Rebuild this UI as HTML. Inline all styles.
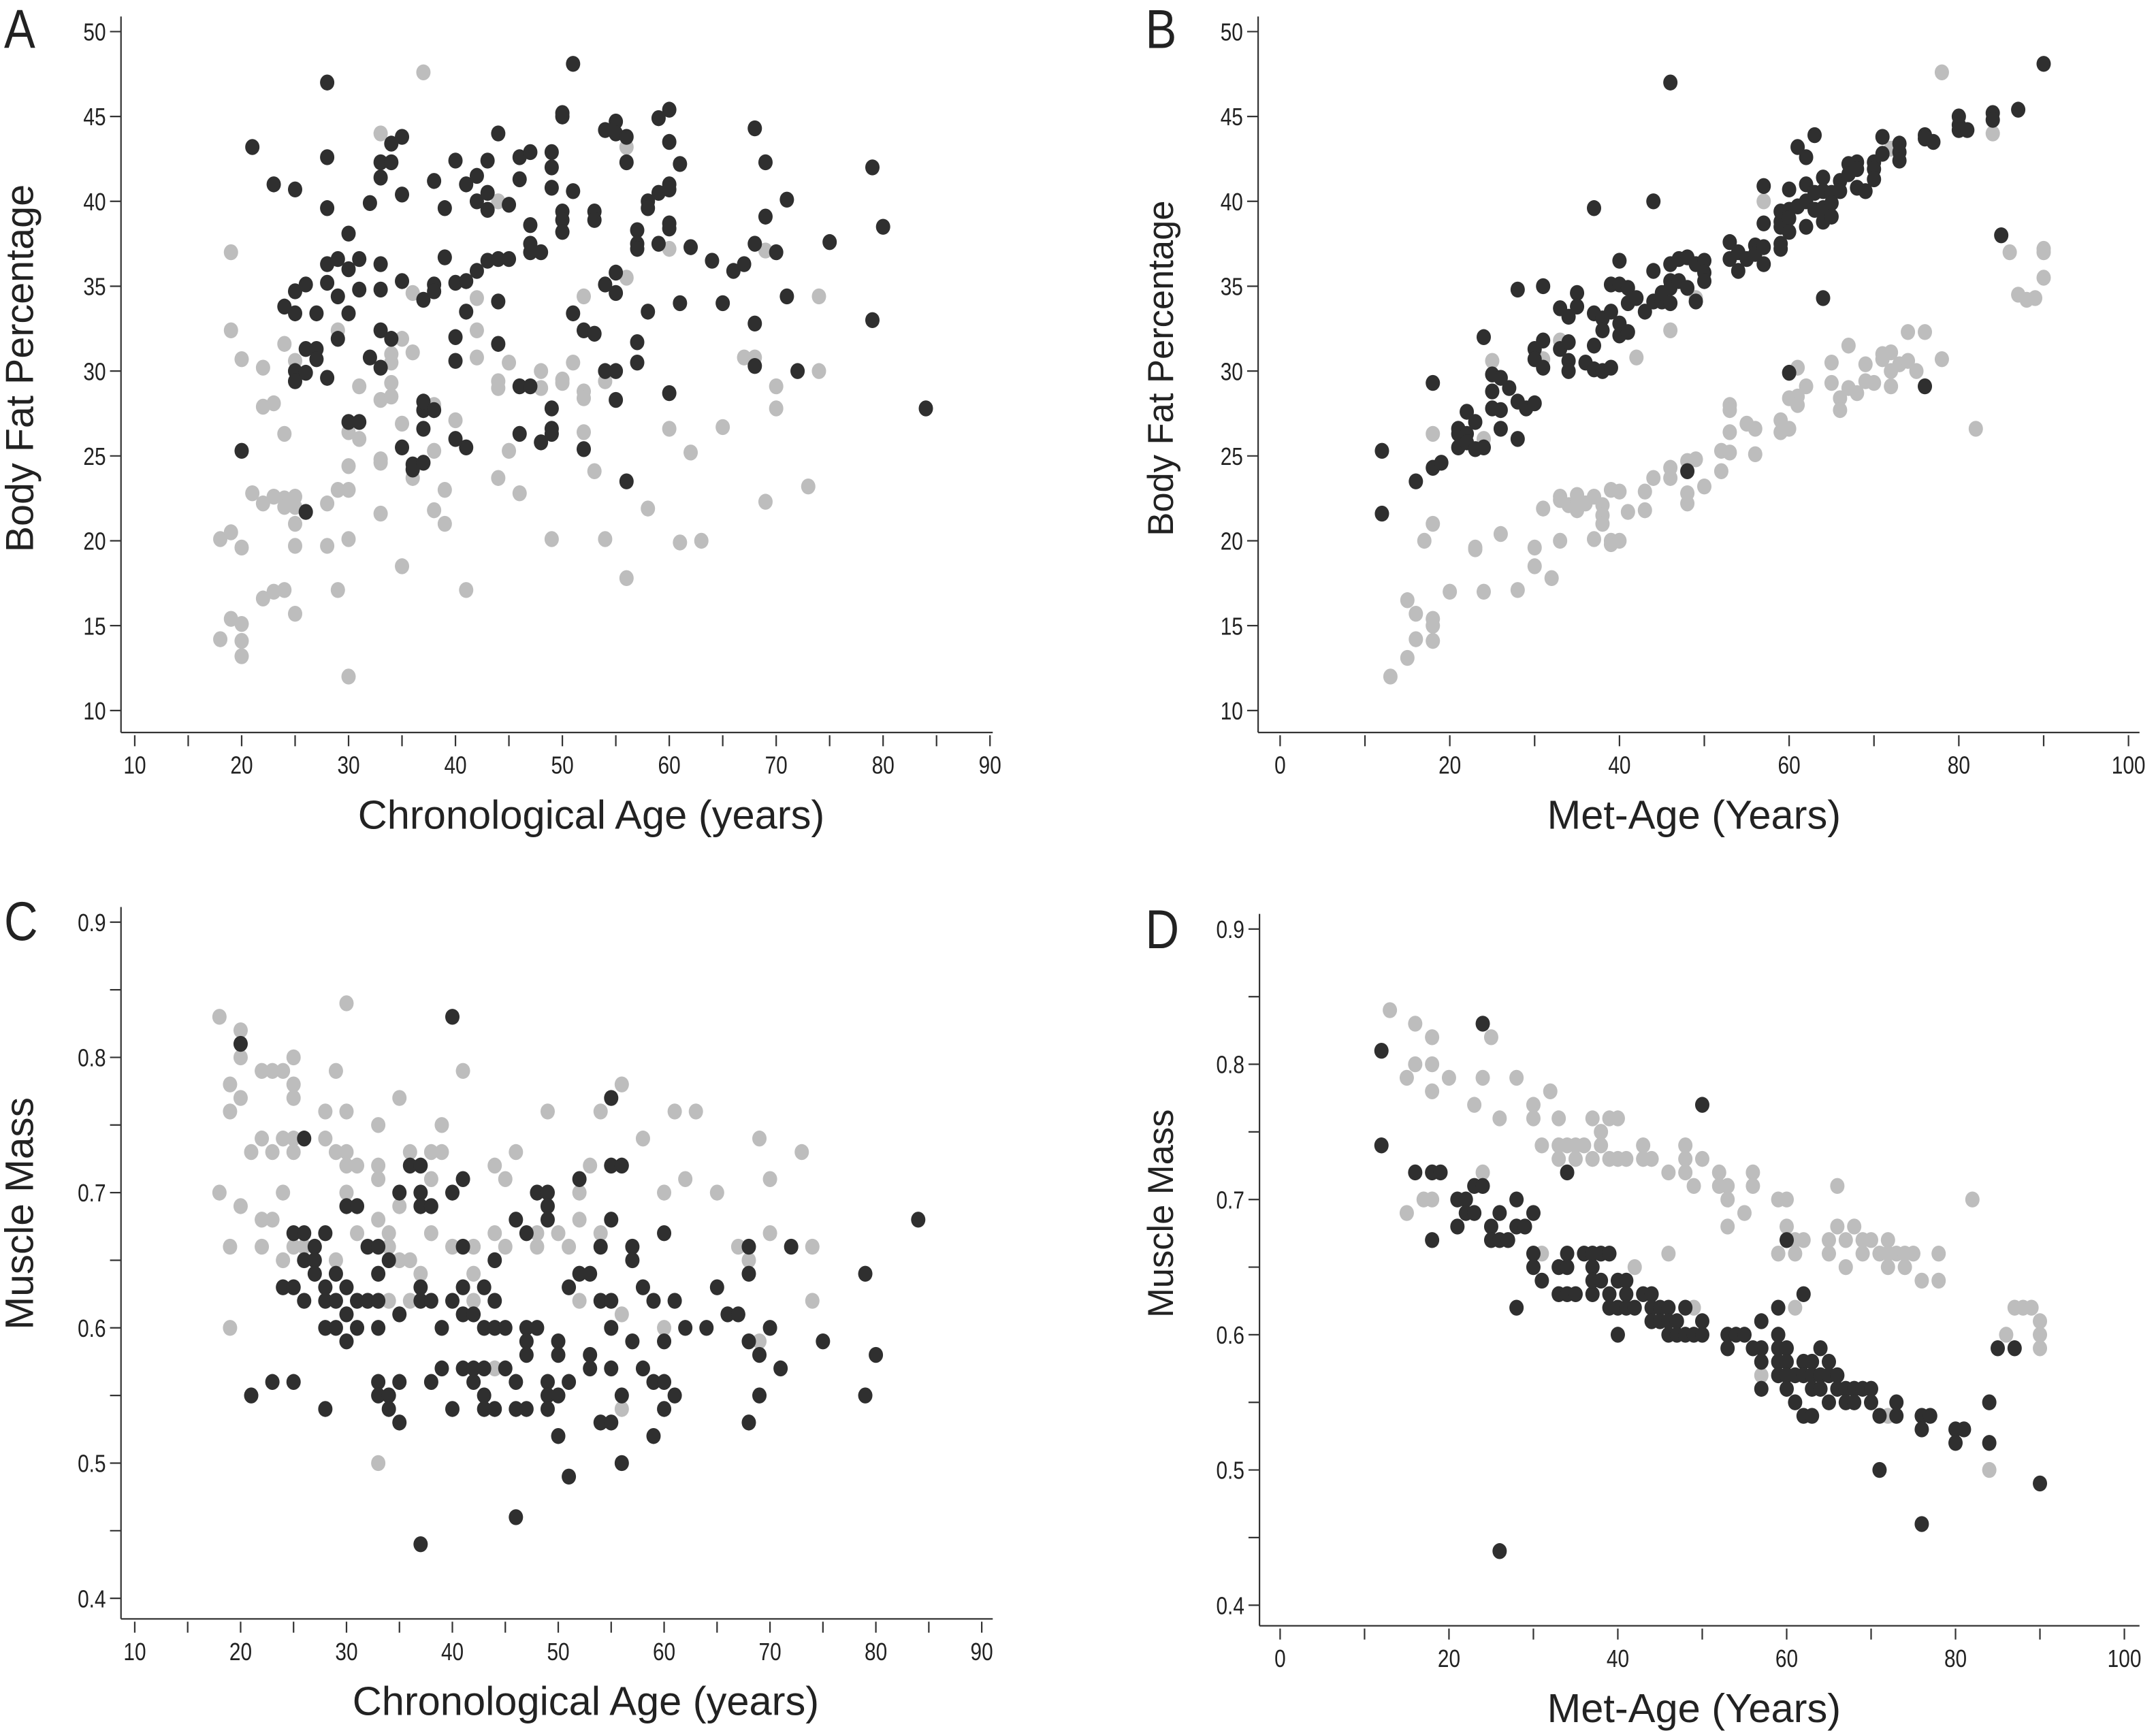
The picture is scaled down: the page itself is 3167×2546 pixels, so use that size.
<!DOCTYPE html>
<html><head><meta charset="utf-8"><style>
html,body{margin:0;padding:0;background:#fff;}
svg{display:block;}
text{font-family:"Liberation Sans Narrow","Liberation Sans",sans-serif;fill:#222;}
</style></head><body>
<svg id="fig" width="3167" height="2546" viewBox="0 0 1568 1261" preserveAspectRatio="none" xmlns="http://www.w3.org/2000/svg"></svg>
<script>
// ---------- Panel A data (chronological age vs body fat) ----------
const aDarkX=[21,23,25,28,28,28,24,25,25,26,27,25,25,26,26,27,27,28,28,28,29,29,29,30,30,30,30,31,31,31,32,32,33,33,33,33,33,33,34,34,34,35,35,35,35,36,36,37,37,37,37,37,38,38,38,38,39,39,40,40,40,40,40,41,41,41,41,42,42,42,43,43,43,43,44,44,44,44,45,45,46,46,46,46,47,47,47,47,47,48,48,49,49,49,49,49,49,50,50,50,50,50,51,51,51,52,52,53,53,53,54,54,54,55,55,55,55,55,55,56,56,56,57,57,57,57,57,58,58,58,59,59,59,60,60,60,60,60,60,60,61,61,62,64,65,66,67,68,68,68,68,69,69,70,71,71,72,75,79,79,80,84,20,26];
const aDarkY=[43.2,41,40.7,47,42.6,39.6,33.8,34.7,33.4,35.1,33.4,30,29.4,31.3,29.9,31.3,30.7,29.6,36.3,35.2,36.6,34.4,31.9,38.1,36,33.4,27,27,36.6,34.8,39.9,30.8,42.3,41.4,36.3,34.8,32.4,30.2,43.4,42.3,31.9,43.8,40.4,35.3,25.5,24.2,24.5,24.6,27.7,26.6,28.2,34.2,41.2,35.1,34.7,27.7,39.6,36.7,42.4,35.2,32,30.6,26,41,35.3,33.5,25.5,41.5,40,35.9,42.4,40.5,39.5,36.5,44,36.6,34.1,31.6,39.8,36.6,42.6,41.3,29.1,26.3,42.9,38.6,37.5,37,29.1,37,25.8,42.9,42,40.8,27.8,26.6,26.3,45.2,45,39.4,38.9,38.2,48.1,40.6,33.4,32.4,25.4,39.4,38.9,32.2,44.2,35.1,30,44.7,44,35.8,34.6,30,28.3,43.8,42.3,23.5,38.3,37.5,37.2,31.7,30.5,40,39.6,33.5,44.9,40.5,37.5,45.4,43.5,41,40.7,38.7,38.4,28.7,42.2,34,37.3,36.5,34,35.9,36.3,44.3,37.5,32.8,30.3,42.3,39.1,37,40.1,34.4,30,37.6,42,33,38.5,27.8,25.3,21.7];
const aLightX=[18,18,19,19,19,19,20,20,20,20,20,21,22,22,22,22,23,23,23,24,24,24,24,24,25,25,25,25,25,25,28,28,29,29,29,30,30,30,30,30,31,31,33,33,33,33,33,34,34,34,34,35,35,35,36,36,36,37,38,38,38,39,39,40,41,42,42,42,44,44,44,44,45,45,46,48,48,49,50,50,51,52,52,52,52,53,54,54,56,56,56,58,60,60,61,62,63,65,67,68,69,69,70,70,73,74,74];
const aLightY=[20.1,14.2,37,32.4,20.5,15.4,30.7,19.6,15.1,14.1,13.2,22.8,30.2,27.9,22.2,16.6,28.1,22.6,17,31.6,26.3,22.5,22,17.1,30.6,22.6,22,21,19.7,15.7,22.2,19.7,32.4,23,17.1,26.4,24.4,23,20.1,12,29.1,26,44,28.3,24.8,24.6,21.6,31,30.5,29.3,28.5,31.9,26.9,18.5,34.6,31.1,23.7,47.6,28,25.3,21.8,23,21,27.1,17.1,34.3,32.4,30.8,40,29.4,29,23.7,30.5,25.3,22.8,30,29,20.1,29.5,29.3,30.5,34.4,28.8,28.4,26.4,24.1,29.4,20.1,43.2,35.5,17.8,21.9,37.2,26.6,19.9,25.2,20,26.7,30.8,30.8,37.1,22.3,29.1,27.8,23.2,34.4,30];
// ---------- Panel B data (met-age vs body fat) ----------
const bDarkX=[12,12,16,18,18,19,21,21,21,22,22,22,23,23,24,24,25,25,25,26,26,26,27,28,28,28,29,30,30,30,31,31,31,33,33,34,34,34,34,35,35,36,37,37,37,37,38,38,38,39,39,39,40,40,40,40,41,41,41,42,43,44,44,44,45,45,46,46,46,46,46,47,47,48,48,48,49,49,50,50,50,53,53,54,54,55,56,56,57,57,57,57,59,59,59,59,59,60,60,60,60,60,61,61,62,62,62,62,63,63,63,64,64,64,64,64,65,65,65,66,66,67,67,68,68,68,69,70,70,70,71,71,73,73,73,76,76,76,77,80,80,80,81,84,84,85,87,90];
const bDarkY=[25.3,21.6,23.5,29.3,24.3,24.6,26.6,26.3,25.5,27.6,26.3,25.8,27,25.4,32,25.5,29.8,28.8,27.8,29.6,27.7,26.6,29,34.8,28.2,26,27.8,31.3,30.7,28.1,35,31.8,30.2,33.7,31.3,33.2,31.7,30.6,30,34.6,33.8,30.5,39.6,33.4,31.5,30.1,33.1,32.4,30,35.1,33.5,30.2,36.5,35.1,32.8,32.1,34.9,34,32.3,34.3,33.5,40,35.9,34.1,34.1,34.6,47,36.3,35.3,34.9,34,36.6,35.3,36.7,34.9,24.1,36.3,34.1,36.5,35.8,35.3,37.6,36.6,37,35.9,36.6,37.4,36.9,40.9,38.7,37.3,36.3,39.4,38.8,38.5,37.5,37.2,40.7,39.5,39,38.2,29.9,43.2,39.7,42.6,41,40,38.5,43.9,40.5,39.5,41.4,40.6,39.6,38.8,34.3,40.5,39.9,39.1,41.2,40.6,42.2,41.6,42.3,41.9,40.8,40.6,42.3,41.9,41.3,43.8,42.8,43.4,42.9,42.4,43.9,43.7,29.1,43.5,45,44.5,44.2,44.2,45.2,44.8,38,45.4,48.1];
const bLightX=[13,15,15,16,16,17,18,18,18,18,18,20,23,23,24,24,25,26,28,30,30,31,31,32,33,33,33,33,34,35,35,35,36,37,37,38,38,38,39,39,39,40,40,41,42,43,43,44,46,46,46,48,48,48,49,49,50,52,52,53,53,53,53,55,56,56,57,59,59,60,60,61,61,61,62,65,65,66,66,67,67,68,69,69,70,71,71,72,72,72,72,73,74,74,75,76,78,78,82,84,86,87,88,89,90,90,90];
const bLightY=[12,16.5,13.1,15.7,14.2,20,26.3,21,15.4,15,14.1,17,19.6,19.5,26,17,30.6,20.4,17.1,19.6,18.5,30.7,21.9,17.8,31.8,22.6,22.4,20,22.1,22.7,22.3,21.8,22.2,22.6,20.1,22.1,21.5,21,23,20,19.8,22.9,20,21.7,30.8,22.9,21.8,23.7,32.4,24.3,23.7,24.7,22.8,22.2,34.3,24.8,23.2,25.3,24.1,28,27.7,26.4,25.2,26.9,26.6,25.1,40,27.1,26.4,28.4,26.6,30.2,28.5,28,29.1,30.5,29.3,28.4,27.7,31.5,29,28.7,30.4,29.4,29.3,31,30.7,31.1,30,29.1,43.1,30.4,32.3,30.6,30,32.3,47.6,30.7,26.6,44,37,34.5,34.2,34.3,37.2,37,35.5];
// ---------- Panel C data (chronological age vs muscle mass) ----------
const cDarkX=[20,21,23,24,25,25,25,26,26,26,26,27,27,27,28,28,28,28,28,29,29,29,30,30,30,30,31,31,31,32,32,33,33,33,33,33,33,34,34,34,35,35,35,35,36,37,37,37,37,37,37,38,38,38,39,39,40,40,40,40,41,41,41,41,41,42,42,42,43,43,43,43,43,44,44,44,44,45,45,46,46,46,46,47,47,47,47,47,48,48,49,49,49,49,49,49,50,50,50,50,51,51,51,52,52,53,53,53,54,54,54,55,55,55,55,55,55,55,56,56,56,57,57,57,58,58,59,59,59,60,60,60,60,61,61,62,64,65,66,67,68,68,68,68,69,69,70,71,72,75,79,79,80,84];
const cDarkY=[.81,.55,.56,.63,.67,.63,.56,.74,.67,.65,.62,.66,.65,.64,.67,.63,.62,.60,.54,.64,.62,.60,.69,.63,.61,.59,.69,.62,.60,.66,.62,.66,.64,.62,.60,.56,.55,.65,.55,.54,.70,.61,.56,.53,.72,.72,.70,.69,.63,.62,.44,.69,.62,.56,.60,.57,.83,.70,.62,.54,.71,.66,.63,.61,.57,.61,.57,.56,.63,.60,.57,.55,.54,.65,.62,.60,.54,.60,.57,.68,.56,.54,.46,.67,.60,.59,.58,.54,.70,.60,.70,.69,.68,.56,.55,.54,.59,.58,.55,.52,.63,.56,.49,.71,.64,.64,.58,.57,.66,.62,.53,.77,.72,.68,.62,.60,.57,.53,.72,.55,.50,.66,.65,.59,.63,.57,.62,.56,.52,.67,.59,.56,.54,.62,.55,.60,.60,.63,.61,.61,.66,.64,.59,.53,.58,.55,.60,.57,.66,.59,.64,.55,.58,.68];
const cLightX=[18,18,19,19,19,19,20,20,20,20,21,22,22,22,22,23,23,23,24,24,24,24,25,25,25,25,25,25,26,28,28,29,29,29,30,30,30,30,30,31,31,33,33,33,33,33,34,34,34,35,35,35,36,36,36,37,38,38,38,39,39,40,41,42,42,42,44,44,44,45,45,46,48,48,49,50,51,52,52,52,53,54,54,56,56,56,58,60,60,61,62,63,65,67,68,69,69,70,70,73,74,74];
const cLightY=[.83,.70,.78,.76,.66,.60,.82,.80,.77,.69,.73,.79,.74,.68,.66,.79,.73,.68,.79,.74,.70,.65,.80,.78,.77,.74,.73,.66,.66,.76,.74,.79,.73,.65,.84,.76,.73,.72,.70,.72,.67,.75,.72,.71,.68,.50,.67,.66,.62,.77,.69,.65,.73,.65,.62,.64,.73,.71,.67,.75,.73,.66,.79,.66,.64,.62,.72,.67,.57,.71,.66,.73,.67,.66,.76,.67,.66,.70,.68,.62,.72,.76,.67,.78,.61,.54,.74,.70,.60,.76,.71,.76,.70,.66,.65,.74,.59,.71,.67,.73,.66,.62];
// ---------- Panel D data (met-age vs muscle mass) ----------
const dDarkX=[12,12,16,18,19,18,21,21,22,22,23,23,24,24,25,25,26,26,26,27,28,28,28,29,30,30,30,31,33,33,34,34,34,34,35,36,37,37,37,37,38,38,39,39,39,40,40,40,41,41,41,42,43,44,44,44,45,45,46,46,46,47,47,48,48,49,50,50,50,53,53,54,55,56,57,57,57,57,59,59,59,59,59,60,60,60,60,60,61,61,62,62,62,62,63,63,63,63,64,64,64,65,65,65,66,66,67,67,68,68,69,70,70,71,71,73,73,76,76,76,77,80,80,81,84,84,85,87,90];
const dDarkY=[.81,.74,.72,.72,.72,.67,.70,.68,.70,.69,.69,.71,.71,.83,.68,.67,.67,.69,.44,.67,.70,.68,.62,.68,.69,.66,.65,.64,.65,.63,.66,.65,.63,.72,.63,.66,.66,.65,.63,.64,.66,.64,.66,.63,.62,.64,.62,.60,.64,.63,.62,.62,.63,.63,.62,.61,.62,.61,.62,.61,.60,.61,.60,.62,.60,.60,.61,.60,.77,.60,.59,.60,.60,.59,.61,.59,.58,.56,.62,.60,.59,.58,.57,.59,.58,.57,.56,.67,.57,.55,.58,.57,.54,.63,.58,.57,.56,.54,.59,.57,.56,.58,.57,.55,.57,.56,.56,.55,.56,.55,.56,.56,.55,.54,.50,.55,.54,.54,.53,.46,.54,.53,.52,.53,.55,.52,.59,.59,.49];
const dLightX=[13,15,15,16,16,17,18,18,18,18,20,23,24,24,25,26,28,30,30,31,31,32,33,33,33,34,35,35,36,37,37,38,38,39,39,40,40,41,42,43,43,44,46,46,48,48,48,49,49,50,52,52,53,53,53,55,56,56,57,59,59,60,60,61,61,61,62,65,65,66,66,67,67,68,69,69,70,71,72,72,72,72,73,74,74,75,76,78,78,82,84,86,87,88,89,90,90,90];
const dLightY=[.84,.79,.69,.83,.80,.70,.82,.80,.78,.70,.79,.77,.79,.72,.82,.76,.79,.77,.76,.74,.66,.78,.76,.74,.73,.74,.74,.73,.74,.76,.73,.75,.74,.76,.73,.76,.73,.73,.65,.74,.73,.73,.72,.66,.74,.73,.72,.71,.62,.73,.72,.71,.71,.70,.68,.69,.72,.71,.57,.70,.66,.70,.68,.67,.66,.62,.67,.67,.66,.71,.68,.67,.65,.68,.67,.66,.67,.66,.67,.66,.65,.54,.66,.66,.65,.66,.64,.66,.64,.70,.50,.60,.62,.62,.62,.61,.60,.59];
// ---------- Tick labels ----------
const bfTicks=[10,15,20,25,30,35,40,45,50];
const mmTicks=[0.4,0.5,0.6,0.7,0.8,0.9];
const chronoTicks=[10,20,30,40,50,60,70,80,90];
const metTicks=[0,20,40,60,80,100];

const NS='http://www.w3.org/2000/svg';
const svg=document.getElementById('fig');
function mk(tag,attrs,parent){const e=document.createElementNS(NS,tag);for(const k in attrs)e.setAttribute(k,attrs[k]);(parent||svg).appendChild(e);return e;}
function ntext(g,x,y,anchor,size,sxk,str){
  const t=mk('text',{x:0,y:0,'text-anchor':anchor,'font-size':size,transform:`translate(${x},${y}) scale(${sxk},1)`},g);
  t.textContent=str;return t;
}

function panel(p){
  const g=mk('g',{});
  
  
  const sx=v=>p.x0px+(v-p.x0)/(p.x1-p.x0)*(p.x1px-p.x0px);
  const sy=v=>p.y0px+(v-p.y0)/(p.y1-p.y0)*(p.y1px-p.y0px);
  const axStyle={stroke:'#333','stroke-width':1.1};
  const ya=mk('line',Object.assign({x1:p.axX,x2:p.axX,y1:p.axTop,y2:p.axY},axStyle),g);
  
  
  const xa=mk('line',Object.assign({x1:p.axX,x2:p.axRight,y1:p.axY,y2:p.axY},axStyle),g);
  
  
  for(let v=p.y0;v<=p.y1+1e-9;v+=p.yMinor){
    const y=sy(v);
    mk('line',Object.assign({x1:p.axX-8,x2:p.axX,y1:y,y2:y},axStyle),g);
  }
  p.yTicks.forEach(v=>{
    const t=ntext(g,p.axX-11,sy(v)+6.5,'end',18,0.82,p.yFmt(v));
    
    
  });
  for(let v=p.xStart;v<=p.xEnd+1e-9;v+=p.xMinor){
    const x=sx(v);
    mk('line',Object.assign({x1:x,x2:x,y1:p.axY+2,y2:p.axY+10},axStyle),g);
  }
  p.xTicks.forEach(v=>{
    const t=ntext(g,sx(v),p.axY+30,'middle',18,0.82,String(v));
    
    
  });
  const xt=mk('text',{x:p.xTitleX,y:p.axY+70,'text-anchor':'middle','font-size':29.5,style:'font-family:"Liberation Sans",sans-serif'},g);
  xt.textContent=p.xTitle;
  
  
  const yt=mk('text',{x:0,y:0,'text-anchor':'middle','font-size':p.yTitleSize,transform:`translate(${p.yTitleX},${p.yTitleY}) rotate(-90)`,style:'font-family:"Liberation Sans",sans-serif'},g);
  yt.textContent=p.yTitle;
  
  
  const lb=ntext(g,p.lblX,p.lblY,'start',40,0.85,p.label);
  lb.setAttribute('style','font-family:"Liberation Sans",sans-serif');
  
  
  const draw=(xs,ys,col,nm)=>xs.forEach((xv,i)=>{
    const c=mk('ellipse',{cx:sx(xv),cy:sy(ys[i]),rx:5.2,ry:5.8,fill:col},g);
    
    
  });
  draw(p.lx,p.ly,'#bdbdbd','light-point');
  draw(p.dx,p.dy,'#2f2f2f','dark-point');
}

panel({name:'panel-a',label:'A',lblX:3,lblY:35,axX:88,axTop:12,axY:533,axRight:722,
  x0:10,x1:90,x0px:98,x1px:720,y0:10,y1:50,y0px:517,y1px:23,yMinor:5,yTicks:bfTicks,yFmt:v=>String(v),
  xStart:10,xEnd:90,xMinor:5,xTicks:chronoTicks,xTitle:'Chronological Age (years)',xTitleX:430,
  yTitle:'Body Fat Percentage',yTitleSize:28.5,yTitleX:24,yTitleY:268,dx:aDarkX,dy:aDarkY,lx:aLightX,ly:aLightY});
panel({name:'panel-b',label:'B',lblX:833,lblY:35,axX:915,axTop:12,axY:533,axRight:1556,
  x0:0,x1:100,x0px:931,x1px:1548,y0:10,y1:50,y0px:517,y1px:23,yMinor:5,yTicks:bfTicks,yFmt:v=>String(v),
  xStart:0,xEnd:100,xMinor:10,xTicks:metTicks,xTitle:'Met-Age (Years)',xTitleX:1232,
  yTitle:'Body Fat Percentage',yTitleSize:26,yTitleX:853,yTitleY:268,dx:bDarkX,dy:bDarkY,lx:bLightX,ly:bLightY});
panel({name:'panel-c',label:'C',lblX:3,lblY:684,axX:88,axTop:660,axY:1178,axRight:722,
  x0:10,x1:90,x0px:98,x1px:714,y0:0.4,y1:0.9,y0px:1163,y1px:671,yMinor:0.05,yTicks:mmTicks,yFmt:v=>v.toFixed(1),
  xStart:10,xEnd:90,xMinor:5,xTicks:chronoTicks,xTitle:'Chronological Age (years)',xTitleX:426,
  yTitle:'Muscle Mass',yTitleSize:29,yTitleX:24,yTitleY:883,dx:cDarkX,dy:cDarkY,lx:cLightX,ly:cLightY});
panel({name:'panel-d',label:'D',lblX:833,lblY:690,axX:916,axTop:665,axY:1183,axRight:1556,
  x0:0,x1:100,x0px:931,x1px:1545,y0:0.4,y1:0.9,y0px:1168,y1px:676,yMinor:0.05,yTicks:mmTicks,yFmt:v=>v.toFixed(1),
  xStart:0,xEnd:100,xMinor:10,xTicks:metTicks,xTitle:'Met-Age (Years)',xTitleX:1232,
  yTitle:'Muscle Mass',yTitleSize:26,yTitleX:853,yTitleY:883,dx:dDarkX,dy:dDarkY,lx:dLightX,ly:dLightY});
</script>
</body></html>
